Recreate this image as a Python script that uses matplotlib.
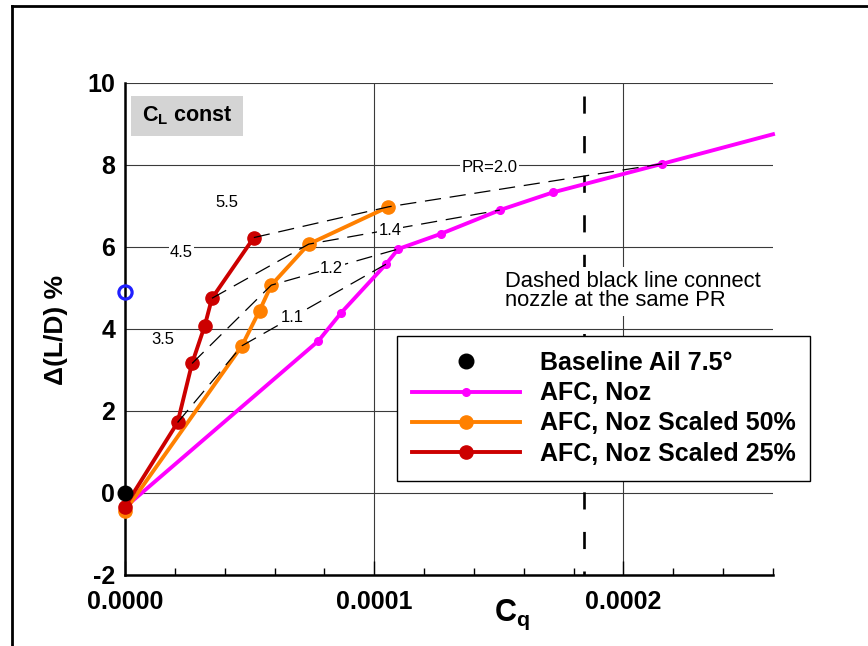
import matplotlib
matplotlib.use('Agg')
import matplotlib.pyplot as plt
from matplotlib.lines import Line2D
from matplotlib.patches import Rectangle
from matplotlib.ticker import MultipleLocator, FixedLocator, FixedFormatter

plt.rcParams['font.family'] = ['Liberation Sans', 'DejaVu Sans']
plt.rcParams['mathtext.fontset'] = 'custom'
plt.rcParams['mathtext.rm'] = 'Liberation Sans'
plt.rcParams['mathtext.bf'] = 'Liberation Sans:bold'
plt.rcParams['mathtext.it'] = 'Liberation Sans:italic'

# baseline aileron and the reference point on the axis
base_cq = [0.0]
base_dld = [0.0]
ref_cq = [0.0]
ref_dld = [4.91]

# AFC with full size nozzle (last point only carries the line to the edge)
noz_cq = [0.0, 7.76e-5, 8.68e-5, 1.047e-4, 1.096e-4, 1.267e-4, 1.504e-4, 1.716e-4, 2.156e-4, 2.60e-4]
noz_dld = [-0.35, 3.71, 4.40, 5.58, 5.95, 6.32, 6.90, 7.33, 8.03, 8.75]

# scaled nozzles
s50_cq = [0.0, 4.69e-5, 5.40e-5, 5.87e-5, 7.37e-5, 1.057e-4]
s50_dld = [-0.44, 3.59, 4.45, 5.07, 6.07, 6.98]
s25_cq = [0.0, 2.11e-5, 2.69e-5, 3.20e-5, 3.49e-5, 5.17e-5]
s25_dld = [-0.33, 1.72, 3.16, 4.08, 4.75, 6.23]

# points run at the same pressure ratio (index into 25%, 50%, full nozzle)
pr_names = ['1.1', '1.2', '1.4', 'PR=2.0']
pr_i25 = [1, 2, 4, 5]
pr_i50 = [1, 3, 4, 5]
pr_inoz = [3, 4, 6, 8]
pr_text_xy = [(6.71e-5, 4.28), (8.29e-5, 5.48), (1.063e-4, 6.41), (1.462e-4, 7.93)]

# extra pressure ratio labels near the 25% nozzle
side_names = ['5.5', '4.5', '3.5']
side_text_xy = [(4.07e-5, 7.08), (2.27e-5, 5.87), (1.53e-5, 3.75)]

cq_marker = 1.84e-4

x_ticks = [0, 1e-4, 2e-4]
x_ticklabels = ['0.0000', '0.0001', '0.0002']
y_ticks = [-2, 0, 2, 4, 6, 8, 10]
y_ticklabels = ['-2', '0', '2', '4', '6', '8', '10']

fig = plt.figure(figsize=(8.68, 6.46), dpi=100)
ax = fig.add_axes([125 / 868, 71 / 646, 648 / 868, 492 / 646])

# outer frame
fig.add_artist(Line2D([12 / 868, 12 / 868], [0, 1 - 6 / 646], transform=fig.transFigure, color='black', lw=2))
fig.add_artist(Line2D([12 / 868, 1], [1 - 6 / 646, 1 - 6 / 646], transform=fig.transFigure, color='black', lw=2))

ax.set_xlim(0, 2.6e-4)
ax.set_ylim(-2, 10)

ax.plot(noz_cq, noz_dld, '-o', color='#ff00ff', lw=2.8, ms=5.5, markevery=list(range(len(noz_cq) - 1)),
        label='AFC, Noz', zorder=3, clip_on=False)
ax.plot(s50_cq, s50_dld, '-o', color='#ff8000', lw=2.8, ms=9.5, label='AFC, Noz Scaled 50%', zorder=4, clip_on=False)
ax.plot(s25_cq, s25_dld, '-o', color='#cc0000', lw=2.8, ms=9.5, label='AFC, Noz Scaled 25%', zorder=5, clip_on=False)
ax.plot(base_cq, base_dld, 'o', color='black', ms=10.5, label='Baseline Ail 7.5°', zorder=6, clip_on=False)
ax.plot(ref_cq, ref_dld, 'o', mfc='none', mec='#2020ff', mew=2.3, ms=9.5, zorder=6, clip_on=False)

# constant PR connectors
for name, i25, i50, inz, (tx, ty) in zip(pr_names, pr_i25, pr_i50, pr_inoz, pr_text_xy):
    xs = [s25_cq[i25], s50_cq[i50], noz_cq[inz]]
    ys = [s25_dld[i25], s50_dld[i50], noz_dld[inz]]
    ax.plot(xs, ys, color='black', lw=0.9, dashes=(13, 7), zorder=7)
    ax.text(tx, ty, name, fontsize=12, ha='center', va='center', zorder=8,
            bbox=dict(facecolor='white', edgecolor='none', pad=1.0))

for name, (tx, ty) in zip(side_names, side_text_xy):
    ax.text(tx, ty, name, fontsize=12, ha='center', va='center', zorder=8,
            bbox=dict(facecolor='white', edgecolor='none', pad=1.0))

ax.plot([cq_marker, cq_marker], [9.68, -2], color='black', lw=1.9, dashes=(6.5, 8.5), zorder=2)

ax.text(1.524e-4, 5.42, 'Dashed black line connect\nnozzle at the same PR', fontsize=15.8,
        ha='left', va='top', linespacing=0.92, zorder=8,
        bbox=dict(facecolor='white', edgecolor='none', pad=3))

# C_L const tag
ax.add_patch(Rectangle((6 / 648, 439 / 492), 112 / 648, 40 / 492, transform=ax.transAxes,
                       facecolor='#d4d4d4', edgecolor='none', zorder=8))
ax.text(62 / 648, 459 / 492, r'$\mathbf{C_L}$ const', transform=ax.transAxes, fontsize=15.5,
        fontweight='bold', ha='center', va='center', zorder=9)

# axes styling
for side in ['top', 'right']:
    ax.spines[side].set_visible(False)
for side in ['left', 'bottom']:
    ax.spines[side].set_linewidth(1.8)

ax.xaxis.set_major_locator(FixedLocator(x_ticks))
ax.xaxis.set_major_formatter(FixedFormatter(x_ticklabels))
ax.xaxis.set_minor_locator(MultipleLocator(2e-5))
ax.yaxis.set_major_locator(FixedLocator(y_ticks))
ax.yaxis.set_major_formatter(FixedFormatter(y_ticklabels))
ax.tick_params(which='both', direction='in', labelsize=18)
ax.tick_params(which='major', length=10, width=1.0)
ax.tick_params(which='minor', length=5, width=1.0)
ax.tick_params(axis='x', pad=11)
ax.tick_params(axis='y', pad=7, left=False)
for lab in ax.get_xticklabels() + ax.get_yticklabels():
    lab.set_fontweight('bold')
ax.grid(True, which='major', color='#3a3a3a', lw=0.8)
ax.set_axisbelow(True)

fig.text(512 / 868, 1 - 615 / 646, r'$\mathbf{C_q}$', fontsize=22, ha='center', va='center')
fig.text(56 / 868, 1 - 330 / 646, 'Δ(L/D) %', fontsize=19, fontweight='bold', rotation=90,
         ha='center', va='center')

handles, labels = ax.get_legend_handles_labels()
order = [3, 0, 1, 2]
leg = ax.legend([handles[i] for i in order], [labels[i] for i in order], loc='upper left',
                bbox_to_anchor=(397 / 868, 1 - 336 / 646), bbox_transform=fig.transFigure,
                borderaxespad=0, prop=dict(weight='bold', size=18), handlelength=4.3,
                handletextpad=0.8, labelspacing=0.25, borderpad=0.6, fancybox=False,
                edgecolor='black', framealpha=1, numpoints=1)
leg.get_frame().set_linewidth(1.0)
leg.set_zorder(10)

fig.savefig('out.png', dpi=100)
